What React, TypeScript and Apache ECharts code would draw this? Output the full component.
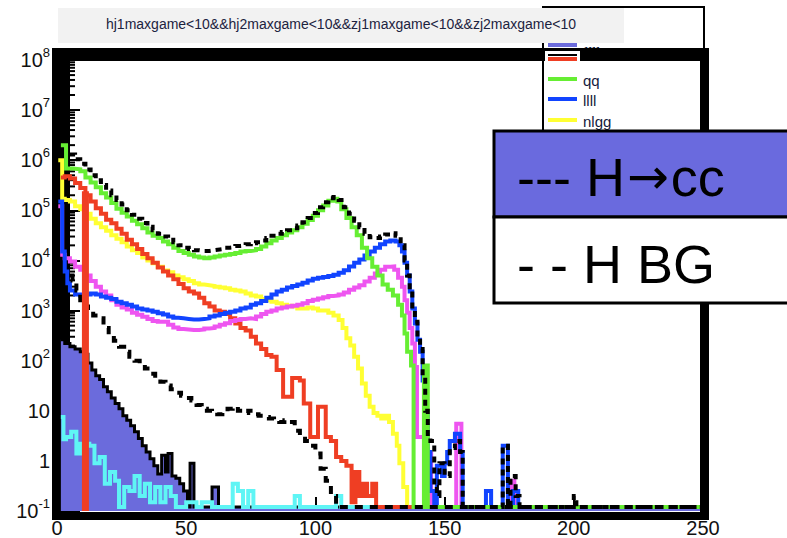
import React, { useEffect, useRef } from "react";
import * as echarts from "echarts";

type P = [number, number];

const TITLE = "hj1maxgame<10&&hj2maxgame<10&&zj1maxgame<10&&zj2maxgame<10";
const X_MIN = 0;
const X_MAX = 250;
const X_INTERVAL = 50;
const Y_MIN = 0.1;
const Y_MAX = 1e8;
const MINOR_MANTISSAS = [2, 3, 4, 5, 6, 7, 8, 9];
const MINOR_DECADES = [0.1, 1, 10, 100, 1e3, 1e4, 1e5, 1e6, 1e7];

const SMALL_LEGEND = [
  { label: "ff", color: "#6b6bdc" },
  { label: "ffff", color: "#ef3e23" },
  { label: "qq", color: "#66ee33" },
  { label: "llll", color: "#1144ff" },
  { label: "nlgg", color: "#ffff33" },
];
const BIG_LEGEND = ["--- H{a|\u2192}cc", "- - H BG"];

// H->cc signal (filled)
const signalHcc: P[] = [
  [1.5, 260], [3, 220], [5, 190], [7, 170], [9, 150], [10.5, 135], [12, 90], [13.5, 65],
  [15, 50], [16.5, 42], [18, 30], [19.5, 24], [21, 18], [22.5, 14], [24, 11], [25.5, 8],
  [27, 6.5], [28.5, 5], [30, 3.8], [31.5, 2.8], [33, 2], [34.5, 1.5], [36, 1.1], [37.5, 0.8],
  [39, 0.55], [40.5, 1.3], [42, 0.6], [43, 1.4], [44.5, 0.5], [46, 0.45], [47.5, 0.35],
  [49, 0.25], [50.5, 0.12], [51.5, 0.9], [53, 0.12], [60, 0.3], [62.5, 0.12], [250, 0.12],
];

const cyanSeries: P[] = [
  [1.5, 7.5], [2.5, 2.7], [3.5, 3], [5.5, 3.8], [7.5, 1.4], [9, 2.2], [12.5, 2], [14.5, 0.9],
  [16.5, 1.2], [18.5, 0.35], [20.5, 0.6], [22.5, 0.4], [24, 0.12], [26, 0.3], [28, 0.25],
  [30, 0.5], [32, 0.2], [34, 0.35], [36, 0.15], [38, 0.3], [40, 0.15], [42, 0.3], [44, 0.2],
  [46, 0.12], [50, 0.15], [54, 0.12], [56, 0.15], [60, 0.12], [68, 0.35], [70, 0.25],
  [72, 0.12], [74, 0.25], [76, 0.12], [92, 0.2], [94, 0.12], [108, 0.2], [110, 0.12], [250, 0.12],
];

const nlgg: P[] = [
  [0.5, 1e6], [2, 1.7e5], [3, 1.6e5], [5, 1.5e5], [7, 1.2e5], [9, 1.05e5], [11, 8.5e4],
  [13, 6.8e4], [15, 5.5e4], [17, 4.6e4], [19, 3.9e4], [21, 3.2e4], [23, 2.7e4], [25, 2.3e4],
  [27, 1.9e4], [29, 1.6e4], [31, 1.4e4], [33, 1.15e4], [35, 1e4], [37, 8.8e3], [39, 7.5e3],
  [41, 6.3e3], [43, 5.8e3], [45, 5e3], [47, 4.6e3], [49, 4.2e3], [51, 3.9e3], [53, 3.5e3],
  [55, 3.3e3], [57, 3.2e3], [59, 3.1e3], [61, 3e3], [63, 2.9e3], [65, 2.8e3], [67, 2.6e3],
  [69, 2.5e3], [71, 2.4e3], [73, 2.2e3], [75, 2e3], [77, 1.9e3], [79, 1.7e3], [81, 1.6e3],
  [83, 1.5e3], [85, 1.4e3], [87, 1.3e3], [89, 1.25e3], [91, 1.2e3], [93, 1.1e3], [95, 1.1e3],
  [97, 1.15e3], [99, 1.1e3], [101, 1e3], [103, 1e3], [105, 900], [107, 800], [109, 650],
  [110.5, 450], [112, 280], [113.5, 200], [115, 120], [116.5, 70], [118, 35], [119.5, 20],
  [121, 12], [122.5, 9], [124, 8], [125.5, 7], [127, 8], [128.5, 6], [130, 3.5], [131.5, 2],
  [132.5, 0.9], [134, 0.3], [135.5, 0.12], [250, 0.12],
];

const ffff: P[] = [
  [1.5, 4.5e5], [3, 4.8e5], [5, 4.3e5], [7, 3.5e5], [9, 2.8e5], [11, 2e5], [13, 1.5e5],
  [15, 1.1e5], [17, 8.5e4], [19, 6.5e4], [21, 5.5e4], [23, 4.3e4], [25, 3.4e4], [27, 2.6e4],
  [29, 2.1e4], [31, 1.7e4], [33, 1.35e4], [35, 1.1e4], [37, 9e3], [39, 7.2e3], [41, 6e3],
  [43, 5e3], [45, 4.2e3], [47, 3.4e3], [49, 2.8e3], [51, 2.4e3], [53, 2.2e3], [55, 1.8e3],
  [57, 1.4e3], [59, 1.2e3], [61, 1e3], [63, 950], [65, 850], [67, 700], [69, 550], [71, 450],
  [73, 400], [75, 300], [77, 220], [79, 170], [81, 130], [83, 120], [85, 65], [87.5, 19],
  [91, 45], [94, 40], [95.5, 14], [98, 3], [101, 12], [104, 3], [106, 2.5], [108, 1.2],
  [110, 1], [112, 0.8], [114, 0.15], [115.5, 0.6], [117, 0.2], [118.5, 0.35], [120, 0.2],
  [122, 0.35], [123.5, 0.12], [250, 0.12],
];
const ffffCut: P[] = [[11, 0.1], [11, 2.4e5]];

const magentaSeries: P[] = [
  [0.5, 1.2e5], [2, 1.3e4], [3, 1.1e4], [5, 9.5e3], [7, 7.5e3], [9, 6.5e3], [11, 5e3],
  [13, 3.9e3], [15, 3e3], [17, 2.4e3], [19, 2e3], [21, 1.6e3], [23, 1.3e3], [25, 1.15e3],
  [27, 1.05e3], [29, 900], [31, 820], [33, 750], [35, 680], [37, 620], [39, 600], [41, 600],
  [43, 520], [45, 460], [47, 430], [49, 420], [51, 410], [53, 410], [55, 420], [57, 440],
  [59, 450], [61, 480], [63, 520], [65, 560], [67, 620], [69, 650], [71, 680], [73, 700],
  [75, 680], [77, 760], [79, 850], [81, 950], [83, 1e3], [85, 1.1e3], [87, 1.15e3],
  [89, 1.2e3], [91, 1.25e3], [93, 1.3e3], [95, 1.4e3], [97, 1.55e3], [99, 1.65e3],
  [101, 1.75e3], [103, 1.85e3], [105, 1.95e3], [107, 2e3], [109, 2.1e3], [111, 2.3e3],
  [113, 2.6e3], [115, 2.9e3], [117, 3.2e3], [119, 3.8e3], [121, 4.5e3], [123, 5.5e3],
  [125, 6.5e3], [127, 7.5e3], [129, 7.6e3], [130.5, 6.5e3], [132, 4.5e3], [133.5, 3e3],
  [134.5, 1.6e3], [135.5, 900], [136.5, 450], [137.5, 220], [138.5, 75], [139.3, 3],
  [143, 1.4], [144.8, 0.12], [154.5, 5.5], [156.5, 0.12], [175.5, 0.4], [177, 0.12], [250, 0.12],
];

const llll: P[] = [
  [0.5, 1.5e5], [2, 1.5e4], [3, 6e3], [4, 3.5e3], [5, 2.5e3], [7, 2.1e3], [9, 2e3],
  [11, 2.1e3], [13, 2.2e3], [15, 2.1e3], [17, 1.9e3], [19, 1.8e3], [21, 1.7e3], [23, 1.5e3],
  [25, 1.4e3], [27, 1.3e3], [29, 1.2e3], [31, 1.1e3], [33, 1.05e3], [35, 1e3], [37, 950],
  [39, 880], [41, 830], [43, 760], [45, 720], [47, 700], [49, 680], [51, 660], [53, 660],
  [55, 680], [57, 700], [59, 760], [61, 800], [63, 850], [65, 900], [67, 950], [69, 1e3],
  [71, 1.1e3], [73, 1.15e3], [75, 1.3e3], [77, 1.4e3], [79, 1.55e3], [81, 1.8e3],
  [83, 2.1e3], [85, 2.4e3], [87, 2.6e3], [89, 2.9e3], [91, 3.1e3], [93, 3.3e3], [95, 3.6e3],
  [97, 4e3], [99, 4.3e3], [101, 4.5e3], [103, 4.7e3], [105, 4.9e3], [107, 5.2e3],
  [109, 5.7e3], [111, 6.4e3], [113, 7.6e3], [115, 9e3], [117, 1.05e4], [119, 1.25e4],
  [121, 1.5e4], [123, 1.8e4], [125, 2.1e4], [127, 2.4e4], [129, 2.5e4], [131, 2.4e4],
  [132.5, 2e4], [133.5, 1.5e4], [134.5, 9e3], [135.5, 5e3], [136.5, 2.4e3], [137.5, 1.1e3],
  [138.5, 550], [139.5, 260], [140.5, 150], [141.5, 40], [142.5, 8], [143.5, 1.5],
  [144.5, 0.25], [146, 0.12], [147, 0.8], [149, 0.5], [150, 0.9], [151, 1.5], [152, 2.5],
  [154, 3.5], [156, 1.5], [157, 0.12], [166, 0.25], [168, 0.12], [172.5, 2], [174.5, 0.12],
  [176.5, 0.25], [178.5, 0.12], [250, 0.12],
];

const qq: P[] = [
  [1.5, 2e6], [3.5, 6.8e5], [6, 6.6e5], [9, 6e5], [11, 4.5e5], [13, 3.6e5], [15, 2.9e5],
  [17, 2.2e5], [19, 1.8e5], [21, 1.4e5], [23, 1.07e5], [25, 9e4], [27, 7.5e4], [29, 6.2e4],
  [31, 5.3e4], [33, 4.4e4], [35, 3.6e4], [37, 3.1e4], [39, 2.8e4], [41, 2.4e4], [43, 2.1e4],
  [45, 1.8e4], [47, 1.55e4], [49, 1.4e4], [51, 1.3e4], [53, 1.2e4], [55, 1.15e4], [57, 1.1e4],
  [59, 1.15e4], [61, 1.2e4], [63, 1.25e4], [65, 1.3e4], [67, 1.35e4], [69, 1.4e4],
  [71, 1.5e4], [73, 1.55e4], [75, 1.6e4], [77, 1.7e4], [79, 1.9e4], [81, 2.2e4], [83, 2.5e4],
  [85, 2.8e4], [87, 3.2e4], [89, 3.6e4], [91, 4e4], [93, 4.6e4], [95, 5.4e4], [97, 6.4e4],
  [99, 7.8e4], [101, 1e5], [103, 1.25e5], [105, 1.55e5], [107, 1.7e5], [108.5, 1.5e5],
  [110, 1.05e5], [112, 7e4], [114, 4.6e4], [116, 3.2e4], [118, 1.8e4], [120, 1.1e4],
  [122, 7.5e3], [124, 5e3], [126, 3.3e3], [128, 2.6e3], [130, 2e3], [132, 1.3e3],
  [133.5, 800], [134.5, 350], [135.5, 150], [137, 80], [138, 0.12], [142, 80], [143.5, 0.12],
  [250, 0.12],
];

// H background (dashed)
const hBG: P[] = [
  [4.8, 5e3], [6, 4e3], [7.5, 2.5e3], [9, 1.6e3], [10.5, 1.2e3], [12, 1e3], [14, 800],
  [16, 700], [18, 450], [20, 330], [22, 250], [24, 190], [26, 150], [28, 120], [30, 100],
  [32, 85], [34, 70], [36, 55], [38, 45], [40, 38], [42, 32], [44, 27], [46, 23], [48, 20],
  [50, 18], [52, 16], [54, 13], [56, 11], [58, 10], [60, 9.5], [62, 8.5], [64, 9], [66, 11],
  [68, 12], [70, 10], [72, 9], [74, 10], [76, 8.5], [78, 8], [80, 7.5], [82, 7], [84, 6.5],
  [86, 6], [88, 6.5], [90, 6], [92, 4], [94, 3.2], [96, 2.5], [98, 2], [100, 1.4], [102, 0.7],
  [104, 0.4], [106, 0.2], [108, 0.12], [250, 0.12],
];

// total (dotted)
const total: P[] = [
  [4.8, 1.3e6], [7, 1.05e6], [9, 8.5e5], [11, 6.5e5], [13, 5e5], [15, 4e5], [17, 3.2e5],
  [19, 2.5e5], [21, 2e5], [23, 1.6e5], [25, 1.3e5], [27, 1e5], [29, 8.2e4], [31, 6.8e4],
  [33, 5.6e4], [35, 4.7e4], [37, 4e4], [39, 3.4e4], [41, 3e4], [43, 2.6e4], [45, 2.3e4],
  [47, 2e4], [49, 1.8e4], [51, 1.7e4], [53, 1.6e4], [55, 1.55e4], [57, 1.55e4], [59, 1.6e4],
  [61, 1.65e4], [63, 1.7e4], [65, 1.8e4], [67, 1.85e4], [69, 1.95e4], [71, 2e4], [73, 2.1e4],
  [75, 2.2e4], [77, 2.3e4], [79, 2.5e4], [81, 2.8e4], [83, 3.1e4], [85, 3.4e4], [87, 3.7e4],
  [89, 4e4], [91, 4.4e4], [93, 5e4], [95, 5.8e4], [97, 7e4], [99, 8.8e4], [101, 1.15e5],
  [103, 1.45e5], [105, 1.75e5], [107, 1.85e5], [109, 1.6e5], [111, 1.15e5], [113, 8.5e4],
  [115, 6.2e4], [117, 4.6e4], [119, 3.4e4], [121, 2.9e4], [123, 2.8e4], [125, 3e4],
  [127, 3.3e4], [129, 3.5e4], [131, 3.1e4], [133, 2e4], [134.5, 1e4], [135.5, 5e3],
  [136.5, 2.5e3], [137.5, 1.2e3], [138.5, 600], [139.5, 280], [140.5, 170], [141.5, 50],
  [142.5, 10], [143.5, 3], [144.5, 2.5], [146, 0.3], [147, 0.2], [148, 0.9], [150, 0.5],
  [152, 1.8], [154, 2.5], [156, 1.5], [157, 0.12], [172.5, 2], [174.5, 0.12], [175.5, 0.5],
  [177.5, 0.2], [179, 0.12], [200, 0.2], [201, 0.12], [250, 0.12],
];

const FONT = "'Liberation Sans', Arial, Helvetica, sans-serif";
const TEXT_DARK = "#141a3c";

function histo(name: string, data: P[], color: string, width: number, z: number, type: any = "solid", extra: any = {}) {
  return {
    type: "line",
    name,
    data,
    step: "end",
    symbol: "none",
    silent: true,
    z,
    lineStyle: { color, width, type, cap: "butt", join: "miter" },
    ...extra,
  };
}

export default function App() {
  const ref = useRef<HTMLDivElement>(null);
  useEffect(() => {
    if (!ref.current) return;
    const chart = echarts.init(ref.current, null, { renderer: "svg" });

    const minorTicks: P[] = [];
    MINOR_DECADES.forEach((d) => MINOR_MANTISSAS.forEach((m) => minorTicks.push([0, m * d])));

    const els: any[] = [];
    // small legend box
    els.push({
      type: "rect", z: 5,
      shape: { x: 543, y: 7, width: 161, height: 126 },
      style: { fill: "#fff", stroke: "#000", lineWidth: 2 },
    });
    const lineYs = [45, 57, 79, 99, 120];
    const labelYs = [36, 52, 80, 100, 121];
    SMALL_LEGEND.forEach((e, i) => {
      const ly = lineYs[i];
      if (i === 1) {
        els.push({ type: "rect", z: 11, shape: { x: 545, y: 51, width: 35, height: 11 }, style: { fill: "#fff" } });
        els.push({ type: "line", z: 12, shape: { x1: 548, y1: 59, x2: 577, y2: 59 }, style: { stroke: e.color, lineWidth: 4 } });
        els.push({ type: "line", z: 12, shape: { x1: 548, y1: 55, x2: 577, y2: 55 }, style: { stroke: "#000", lineWidth: 2 } });
      } else {
        els.push({ type: "line", z: 12, shape: { x1: 548, y1: ly, x2: 577, y2: ly }, style: { stroke: e.color, lineWidth: 4 } });
      }
      els.push({
        type: "text", z: 6, x: 583, y: labelYs[i],
        style: { text: e.label, fill: TEXT_DARK, font: `15px ${FONT}`, verticalAlign: "middle", align: "left" },
      });
    });
    // title box
    els.push({ type: "rect", z: 20, shape: { x: 58, y: 8, width: 566, height: 35 }, style: { fill: "#f2f2f2" } });
    els.push({
      type: "text", z: 21, x: 341, y: 24,
      style: { text: TITLE, fill: "#1c2340", font: `14px ${FONT}`, align: "center", verticalAlign: "middle" },
    });
    // frame
    els.push({ type: "rect", z: 0, shape: { x: 52, y: 48, width: 18, height: 472 }, style: { fill: "#000" } });
    els.push({ type: "rect", z: 10, shape: { x: 52, y: 48, width: 657, height: 13 }, style: { fill: "#000" } });
    els.push({ type: "rect", z: 10, shape: { x: 700, y: 48, width: 9, height: 472 }, style: { fill: "#000" } });
    els.push({ type: "rect", z: 10, shape: { x: 52, y: 512, width: 657, height: 8 }, style: { fill: "#000" } });
    // big legend box
    els.push({ type: "rect", z: 30, shape: { x: 494, y: 131, width: 310, height: 86 }, style: { fill: "#6a6ade", stroke: "#000", lineWidth: 3 } });
    els.push({ type: "rect", z: 30, shape: { x: 494, y: 217, width: 310, height: 86 }, style: { fill: "#fff", stroke: "#000", lineWidth: 3 } });
    els.push({
      type: "text", z: 31, x: 517, y: 177,
      style: {
        text: BIG_LEGEND[0], fill: "#000", font: `54px ${FONT}`, verticalAlign: "middle",
        rich: { a: { fontFamily: "'DejaVu Sans', sans-serif", fontSize: 50, fill: "#000", padding: [0, 2, 0, 2] } },
      },
    });
    els.push({ type: "text", z: 31, x: 517, y: 264, style: { text: BIG_LEGEND[1], fill: "#000", font: `54px ${FONT}`, verticalAlign: "middle" } });

    chart.setOption({
      animation: false,
      backgroundColor: "#fff",
      grid: { left: 57, right: 84, top: 60, bottom: 23, show: false },
      xAxis: {
        type: "value", min: X_MIN, max: X_MAX, interval: X_INTERVAL,
        axisLine: { show: false },
        axisTick: { show: true, inside: true, length: 14, lineStyle: { color: "#000", width: 2 } },
        splitLine: { show: false },
        axisLabel: { fontSize: 20, color: "#111", fontFamily: FONT, margin: 7 },
      },
      yAxis: {
        type: "log", logBase: 10, min: Y_MIN, max: Y_MAX, splitNumber: 9,
        axisLine: { show: false },
        axisTick: { show: true, inside: true, length: 23, lineStyle: { color: "#000", width: 2 } },
        splitLine: { show: false },
        axisLabel: {
          margin: 7, color: "#111", fontFamily: FONT, fontSize: 20,
          formatter: (v: number) => {
            const e = Math.round(Math.log10(v));
            if (e === 0) return "{n|1}";
            if (e === 1) return "{n|10}";
            return `{n|10}{s|${e}}`;
          },
          rich: {
            n: { fontSize: 20, color: "#111", fontFamily: FONT },
            s: { fontSize: 13, color: "#111", fontFamily: FONT, padding: [0, 0, 15, 0] },
          },
        },
      },
      graphic: els,
      series: [
        histo("ff", signalHcc, "#000", 3, 2, "solid", { areaStyle: { color: "#6b6bdc", opacity: 1, origin: "start" } }),
        histo("cyan", cyanSeries, "#5ff5f5", 4, 3),
        histo("nlgg", nlgg, "#ffff33", 4, 4),
        histo("ffff", ffff, "#ef3e23", 4, 5),
        histo("magenta", magentaSeries, "#ee55f0", 4, 6),
        histo("llll", llll, "#1144ff", 4, 7),
        histo("qq", qq, "#66ee33", 4, 8),
        histo("H BG", hBG, "#000", 4, 9, [8, 7]),
        histo("total", total, "#000", 4, 10, [6, 5]),
        { type: "line", name: "cut", data: ffffCut, symbol: "none", silent: true, z: 11, lineStyle: { color: "#ef3e23", width: 7, cap: "butt" } },
        {
          type: "custom", name: "minor", silent: true, z: 1, clip: false,
          data: minorTicks,
          renderItem: (params: any, api: any) => {
            const p = api.coord([api.value(0), api.value(1)]);
            return { type: "line", shape: { x1: p[0], y1: p[1], x2: p[0] + 18, y2: p[1] }, style: { stroke: "#000", lineWidth: 2 } };
          },
        },
      ],
    });
    return () => chart.dispose();
  }, []);
  return <div ref={ref} style={{ position: "fixed", left: 0, top: 0, width: 787, height: 538 }} />;
}
